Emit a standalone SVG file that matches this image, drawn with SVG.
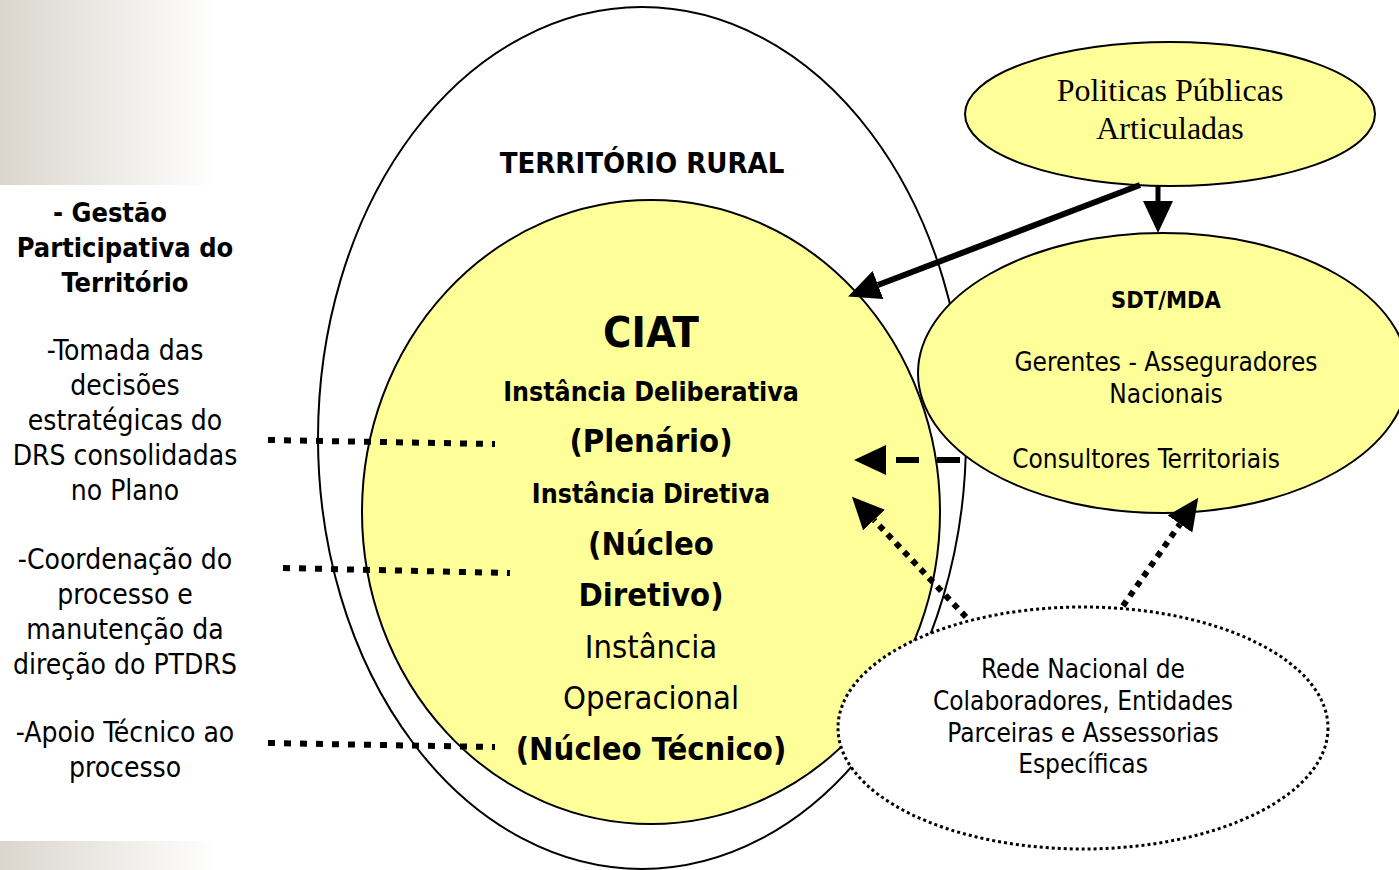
<svg xmlns="http://www.w3.org/2000/svg" width="1399" height="870" viewBox="0 0 1399 870">
<style>
.t{font-family:"DejaVu Sans Condensed","DejaVu Sans",sans-serif;fill:#000;text-anchor:middle}
.b{font-weight:bold}
.serif{font-family:"Liberation Serif","Times New Roman",serif;fill:#000;text-anchor:middle}
.yl{fill:#ffff99;stroke:#000;stroke-width:2}
.conn{stroke:#000;fill:none}
.dot{stroke:#000;stroke-width:6;stroke-dasharray:7 9;fill:none}
</style>
<defs>
<linearGradient id="bg" x1="0" y1="0" x2="1" y2="0">
<stop offset="0" stop-color="#dad6cd"/>
<stop offset="1" stop-color="#ffffff"/>
</linearGradient>
<marker id="ah" viewBox="0 0 32 30" refX="0" refY="15" markerWidth="32" markerHeight="30" markerUnits="userSpaceOnUse" orient="auto">
<path d="M0,0 L32,15 L0,30 z" fill="#000"/>
</marker>
</defs>
<rect x="0" y="0" width="218" height="185" fill="url(#bg)"/>
<rect x="0" y="841" width="218" height="29" fill="url(#bg)"/>

<g id="territorio">
<ellipse cx="642" cy="438" rx="324" ry="431" fill="none" stroke="#000" stroke-width="2"/>
<text class="t b" x="642" y="173" font-size="29">TERRITÓRIO RURAL</text>
</g>

<g id="ciat">
<ellipse class="yl" cx="651" cy="512" rx="289" ry="312"/>
<text class="t b" x="651" y="347" font-size="43">CIAT</text>
<text class="t b" x="651" y="401" font-size="26.5">Instância Deliberativa</text>
<text class="t b" x="651" y="452" font-size="32.5">(Plenário)</text>
<text class="t b" x="651" y="503" font-size="26.5">Instância Diretiva</text>
<text class="t b" x="651" y="555" font-size="32.5">(Núcleo</text>
<text class="t b" x="651" y="606" font-size="32.5">Diretivo)</text>
<text class="t" x="651" y="658" font-size="32.5">Instância</text>
<text class="t" x="651" y="709" font-size="32.5">Operacional</text>
<text class="t b" x="651" y="760" font-size="32.5">(Núcleo Técnico)</text>
</g>

<g id="politicas">
<ellipse class="yl" cx="1170" cy="114" rx="205" ry="72"/>
<text class="serif" x="1170" y="101" font-size="32">Politicas Públicas</text>
<text class="serif" x="1170" y="139" font-size="32">Articuladas</text>
</g>

<g id="sdt">
<ellipse class="yl" cx="1163" cy="373" rx="245" ry="140"/>
<text class="t b" x="1166" y="308" font-size="23.5">SDT/MDA</text>
<text class="t" x="1166" y="371" font-size="26">Gerentes - Asseguradores</text>
<text class="t" x="1166" y="403" font-size="26">Nacionais</text>
<text class="t" x="1146" y="468" font-size="26">Consultores Territoriais</text>
</g>

<g id="rede">
<ellipse cx="1083" cy="728" rx="245" ry="121" fill="#fff" stroke="#000" stroke-width="3" stroke-dasharray="3 3"/>
<text class="t" x="1083" y="678" font-size="26">Rede Nacional de</text>
<text class="t" x="1083" y="710" font-size="26">Colaboradores, Entidades</text>
<text class="t" x="1083" y="742" font-size="26">Parceiras e Assessorias</text>
<text class="t" x="1083" y="773" font-size="26">Específicas</text>
</g>

<g id="gestao">
<text class="t b" x="110" y="222" font-size="27">- Gestão</text>
<text class="t b" x="125" y="257" font-size="27">Participativa do</text>
<text class="t b" x="125" y="292" font-size="27">Território</text>
<text class="t" x="125" y="360" font-size="28">-Tomada das</text>
<text class="t" x="125" y="395" font-size="28">decisões</text>
<text class="t" x="125" y="430" font-size="28">estratégicas do</text>
<text class="t" x="125" y="465" font-size="28">DRS consolidadas</text>
<text class="t" x="125" y="500" font-size="28">no Plano</text>
<text class="t" x="125" y="569" font-size="28">-Coordenação do</text>
<text class="t" x="125" y="604" font-size="28">processo e</text>
<text class="t" x="125" y="639" font-size="28">manutenção da</text>
<text class="t" x="125" y="674" font-size="28">direção do PTDRS</text>
<text class="t" x="125" y="742" font-size="28">-Apoio Técnico ao</text>
<text class="t" x="125" y="777" font-size="28">processo</text>
</g>

<g id="connectors">
<line class="conn" x1="1140" y1="185" x2="878" y2="285" stroke-width="6" marker-end="url(#ah)"/>
<line class="conn" x1="1158" y1="186" x2="1158" y2="201" stroke-width="5" marker-end="url(#ah)"/>
<line class="conn" x1="960" y1="460" x2="886" y2="460" stroke-width="6" stroke-dasharray="23 18" marker-end="url(#ah)"/>
<line class="conn" x1="966" y1="617" x2="874" y2="520" stroke-width="6" stroke-dasharray="6 6" marker-end="url(#ah)"/>
<line class="conn" x1="1123" y1="606" x2="1180" y2="524" stroke-width="6" stroke-dasharray="6 6" marker-end="url(#ah)"/>
<line class="dot" x1="268" y1="440" x2="495" y2="444"/>
<line class="dot" x1="283" y1="568" x2="510" y2="573"/>
<line class="dot" x1="268" y1="743" x2="495" y2="747"/>
</g>
</svg>
